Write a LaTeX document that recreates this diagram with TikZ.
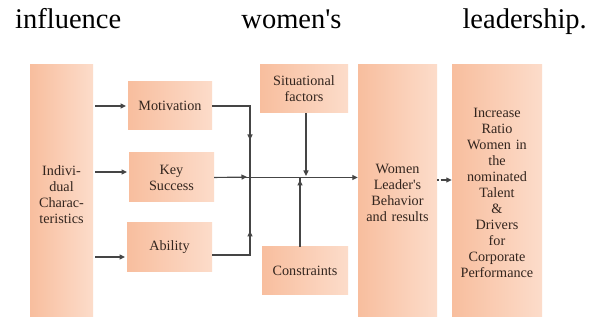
\documentclass[tikz,border=0pt]{standalone}
\usepackage{fontspec}
\setmainfont{Liberation Serif}
\usetikzlibrary{arrows.meta,calc}
\definecolor{boxdark}{HTML}{F8BE9E}
\definecolor{boxlight}{HTML}{FCDCCA}
\definecolor{txt}{HTML}{33251E}
\definecolor{ln}{HTML}{454545}
\begin{document}
\begin{tikzpicture}[x=1pt,y=-1pt,
  fbox/.style={draw=none,left color=boxdark,right color=boxlight,inner sep=0pt,
    text=txt,align=center,font=\fontsize{14.2}{16}\selectfont},
  tbox/.style={inner sep=0pt,text=txt,align=center,font=\fontsize{14.2}{16}\selectfont},
  conn/.style={draw=ln,line width=1.1pt},
  tipd/.style={conn,-{Triangle[length=5.5pt,width=5pt]}},
  toptxt/.style={font=\fontsize{28.5}{30}\selectfont,anchor=base,inner sep=0pt}
]
\useasboundingbox (0,0) rectangle (590,320);
\fill[white] (0,0) rectangle (590,320);
% heading line
\node[toptxt,anchor=base west] (t1) at (15,29) {influence};
\node[toptxt] (t2) at (291.5,29) {women\textquotesingle s};
\node[toptxt,anchor=base east] (t3) at (587,29) {leadership.};
% boxes
\node[fbox,minimum width=63,minimum height=252] (ind) at (61.5,191) {};
\node[tbox,text width=62] (indt) at (61.5,195) {Indivi-\\dual\\Charac-\\teristics};
\node[fbox,minimum width=84,minimum height=48] (mot) at (170,106) {Motivation};
\node[fbox,minimum width=85,minimum height=49] (key) at (171.5,177.5) {Key\\Success};
\node[fbox,minimum width=85,minimum height=49] (abi) at (169.5,247.5) {Ability};
\node[fbox,minimum width=88,minimum height=48] (sit) at (304,89) {Situational\\factors};
\node[fbox,minimum width=86,minimum height=48] (con) at (305,271) {Constraints};
\node[fbox,minimum width=79,minimum height=252] (wom) at (397.5,191) {};
\node[tbox,text width=78] (womt) at (397.5,193) {Women\\Leader\textquotesingle s\\Behavior\\and results};
\node[fbox,minimum width=90,minimum height=252] (inc) at (497,191) {};
\node[tbox,text width=90] (inct) at (497,193) {Increase\\Ratio\\Women in\\the\\nominated\\Talent\\\&\\Drivers\\for\\Corporate\\Performance};
% junction coordinates
\coordinate (j) at (250,177);
\coordinate (a1) at (95,106);
\coordinate (a2) at (95,172);
\coordinate (a3) at (95,257);
\coordinate (b1) at (126,106);
\coordinate (b2) at (127,172);
\coordinate (b3) at (125,257);
% individual -> factors
\draw[tipd] (a1) -- (b1);
\draw[tipd] (a2) -- (b2);
\draw[tipd] (a3) -- (b3);
% motivation and ability to junction
\draw[conn] (mot.east) -- (250,106) -- (j);
\draw[tipd] (250,106) -- (250,140);
\draw[conn] (abi.east |- 0,255) -- (250,255) -- (j);
\draw[tipd] (250,255) -- (250,231);
% main line
\draw[tipd] (key.east) -- (key.east -| wom.west);
\draw[tipd] (key.east) -- (247,177);
% situational and constraints
\draw[tipd] (sit.south -| 306,0) -- (306,176);
\draw[conn] (con.north -| 300,0) -- (300,177);
\draw[tipd] (con.north -| 300,0) -- (300,180);
% women -> increase
\draw[conn,dashed,dash pattern=on 2pt off 1.5pt] (wom.east |- 0,180) -- (444,180);
\draw[tipd] (443,180) -- (inc.west |- 0,180);
\end{tikzpicture}
\end{document}
